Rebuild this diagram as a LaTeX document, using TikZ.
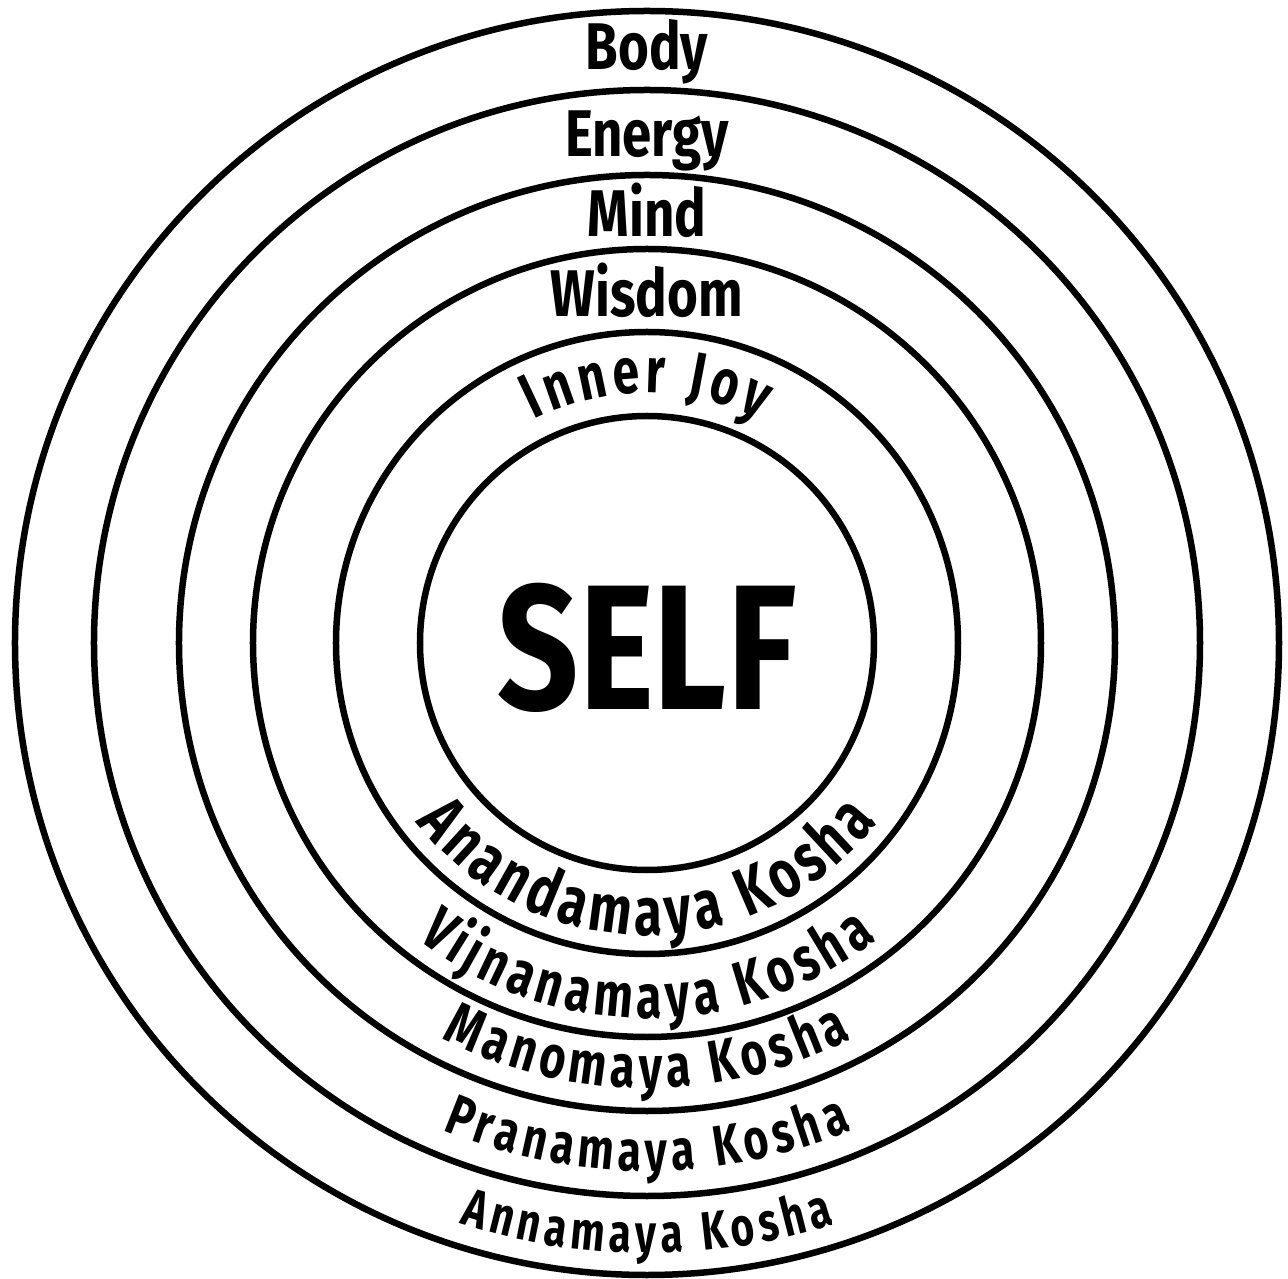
\documentclass[tikz,border=0pt]{standalone}
\usepackage{fontspec}
\newfontfamily\handA[FakeStretch=0.8]{Fira Sans}
\newfontfamily\handB[FakeStretch=0.75]{Fira Sans}
\usetikzlibrary{decorations.text}
\begin{document}
\begin{tikzpicture}[x=1pt,y=1pt,
  ring/.style={circle,draw,line width=6.5pt,inner sep=0pt,minimum size=#1},
  toplabel/.style={font=\handA\bfseries\fontsize{66}{66}\selectfont,anchor=base,inner sep=0pt},
  arclabel/.style 2 args={decorate,decoration={text effects along path,text={#2},text align=center,
     text effects/.cd,
     characters={font=\handB\bfseries\fontsize{#1}{#1}\selectfont,inner sep=0pt,anchor=base,transform shape},
     character widths={font=\handB\bfseries\fontsize{#1}{#1}\selectfont,inner ysep=0pt,inner xsep=2.5pt}}}]
\useasboundingbox (-647,-636) rectangle (641,643);
\node[ring=1264pt] (c1) at (0,0) {};
\node[ring=1106pt] (c2) at (0,0) {};
\node[ring=936pt] (c3) at (0,0) {};
\node[ring=788pt] (c4) at (0,0) {};
\node[ring=622pt] (c5) at (0,0) {};
\node[ring=454pt] (c6) at (0,0) {};
% top labels
\node[toplabel] (body) at (0,573) {Body};
\node[toplabel] (energy) at (0,486) {Energy};
\node[toplabel] (mind) at (0,406) {Mind};
\node[toplabel] (wisdom) at (0,326) {Wisdom};
\node[font=\handA\bfseries\fontsize{178}{178}\selectfont,anchor=base,inner sep=0pt] (self) at (0,-67) {SELF};
% curved labels
\path[arclabel={64}{Inner Joy}] (160:250pt) arc (160:20:250pt);
\path[arclabel={68}{Anandamaya Kosha}] (180:292pt) arc (180:360:292pt);
\path[arclabel={62}{Vijnanamaya Kosha}] (180:375pt) arc (180:360:375pt);
\path[arclabel={60}{Manomaya Kosha}] (180:445pt) arc (180:360:445pt);
\path[arclabel={57}{Pranamaya Kosha}] (180:528pt) arc (180:360:528pt);
\path[arclabel={54}{Annamaya Kosha}] (180:610pt) arc (180:360:610pt);
\end{tikzpicture}
\end{document}
